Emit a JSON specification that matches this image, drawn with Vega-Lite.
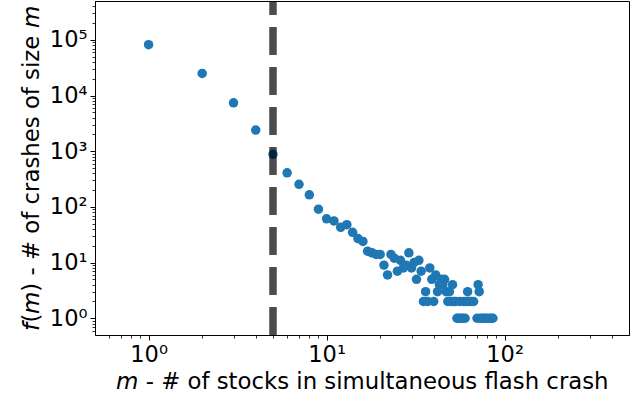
{
  "$schema": "https://vega.github.io/schema/vega-lite/v6.json",
  "autosize": "none",
  "width": 534,
  "height": 334,
  "padding": {"left": 95, "top": 1, "right": 8, "bottom": 68},
  "background": "white",
  "config": {
    "view": {"stroke": "black", "strokeWidth": 1},
    "font": "DejaVu Sans",
    "axis": {"grid": false, "domainColor": "black", "tickColor": "black", "labelColor": "black", "titleColor": "black", "labelFont": "DejaVu Sans", "titleFont": "DejaVu Sans", "titleFontWeight": "normal"}
  },
  "data": {"values": [
    {"m": 1, "f": 82000}, {"m": 2, "f": 25000}, {"m": 3, "f": 7400}, {"m": 4, "f": 2400},
    {"m": 5, "f": 880}, {"m": 6, "f": 410}, {"m": 7, "f": 255}, {"m": 8, "f": 165},
    {"m": 9, "f": 91}, {"m": 10, "f": 61}, {"m": 11, "f": 56}, {"m": 12, "f": 43},
    {"m": 13, "f": 48}, {"m": 14, "f": 35}, {"m": 15, "f": 27}, {"m": 16, "f": 24},
    {"m": 17, "f": 16}, {"m": 18, "f": 15}, {"m": 19, "f": 14}, {"m": 20, "f": 14},
    {"m": 21, "f": 9}, {"m": 22, "f": 6}, {"m": 23, "f": 14}, {"m": 24, "f": 12},
    {"m": 25, "f": 7}, {"m": 26, "f": 11}, {"m": 27, "f": 8}, {"m": 28, "f": 9},
    {"m": 29, "f": 15}, {"m": 30, "f": 8}, {"m": 31, "f": 10}, {"m": 32, "f": 5},
    {"m": 33, "f": 11}, {"m": 34, "f": 7}, {"m": 35, "f": 2}, {"m": 36, "f": 3},
    {"m": 37, "f": 2}, {"m": 38, "f": 8}, {"m": 39, "f": 5}, {"m": 40, "f": 2},
    {"m": 41, "f": 6}, {"m": 42, "f": 3}, {"m": 43, "f": 4}, {"m": 44, "f": 5},
    {"m": 45, "f": 4}, {"m": 46, "f": 5}, {"m": 47, "f": 3}, {"m": 48, "f": 2},
    {"m": 49, "f": 3}, {"m": 50, "f": 2}, {"m": 51, "f": 4}, {"m": 52, "f": 2},
    {"m": 53, "f": 2}, {"m": 54, "f": 1}, {"m": 55, "f": 1}, {"m": 56, "f": 2},
    {"m": 57, "f": 1}, {"m": 58, "f": 1}, {"m": 59, "f": 2}, {"m": 60, "f": 1},
    {"m": 61, "f": 2}, {"m": 62, "f": 3}, {"m": 63, "f": 2}, {"m": 65, "f": 2},
    {"m": 67, "f": 2}, {"m": 70, "f": 1}, {"m": 71, "f": 4}, {"m": 72, "f": 3},
    {"m": 73, "f": 1}, {"m": 75, "f": 1}, {"m": 77, "f": 1}, {"m": 79, "f": 1},
    {"m": 82, "f": 1}, {"m": 84, "f": 1}, {"m": 86, "f": 1}
  ]},
  "layer": [
    {
      "mark": {"type": "point", "filled": true, "opacity": 1, "size": 90, "color": "#1f77b4"},
      "encoding": {
        "x": {"field": "m", "type": "quantitative",
          "scale": {"type": "log", "domain": [0.5, 500], "nice": false},
          "axis": {"orient": "bottom", "values": [1, 10, 100], "labelExpr": "'10' + ['⁰','¹','²','³'][round(log(datum.value)/LN10)]",
            "labelFontSize": 22.5, "tickSize": 5, "tickWidth": 1, "labelPadding": 3,
            "title": "𝘮 - # of stocks in simultaneous flash crash", "titleFontSize": 22.8, "titlePadding": 5}},
        "y": {"field": "f", "type": "quantitative",
          "scale": {"type": "log", "domain": [0.5, 500000], "nice": false},
          "axis": {"orient": "left", "values": [1, 10, 100, 1000, 10000, 100000], "labelExpr": "'10' + ['⁰','¹','²','³','⁴','⁵'][round(log(datum.value)/LN10)]",
            "labelFontSize": 22.5, "tickSize": 5, "tickWidth": 1, "labelPadding": 3,
            "title": "𝘧(𝘮) - # of crashes of size 𝘮", "titleFontSize": 22.8, "titlePadding": 6}}
      }
    },
    {
      "data": {"values": [{}]},
      "mark": {"type": "rule", "color": "black", "strokeOpacity": 0.7, "strokeWidth": 7.5, "strokeDash": [28, 12]},
      "encoding": {
        "x": {"datum": 5, "type": "quantitative",
          "axis": {"orient": "bottom", "values": [0.6, 0.7, 0.8, 0.9, 2, 3, 4, 5, 6, 7, 8, 9, 20, 30, 40, 50, 60, 70, 80, 90, 200, 300, 400], "labels": false, "tickSize": 3, "tickWidth": 0.8, "domain": false, "title": null}},
        "y": {"datum": 0.5, "type": "quantitative",
          "axis": {"orient": "left", "values": [0.6, 0.7, 0.8, 0.9, 2, 3, 4, 5, 6, 7, 8, 9, 20, 30, 40, 50, 60, 70, 80, 90, 200, 300, 400, 500, 600, 700, 800, 900, 2000, 3000, 4000, 5000, 6000, 7000, 8000, 9000, 20000, 30000, 40000, 50000, 60000, 70000, 80000, 90000, 200000, 300000, 400000], "labels": false, "tickSize": 3, "tickWidth": 0.8, "domain": false, "title": null}},
        "y2": {"datum": 500000}
      }
    }
  ],
  "resolve": {"axis": {"x": "independent", "y": "independent"}}
}
